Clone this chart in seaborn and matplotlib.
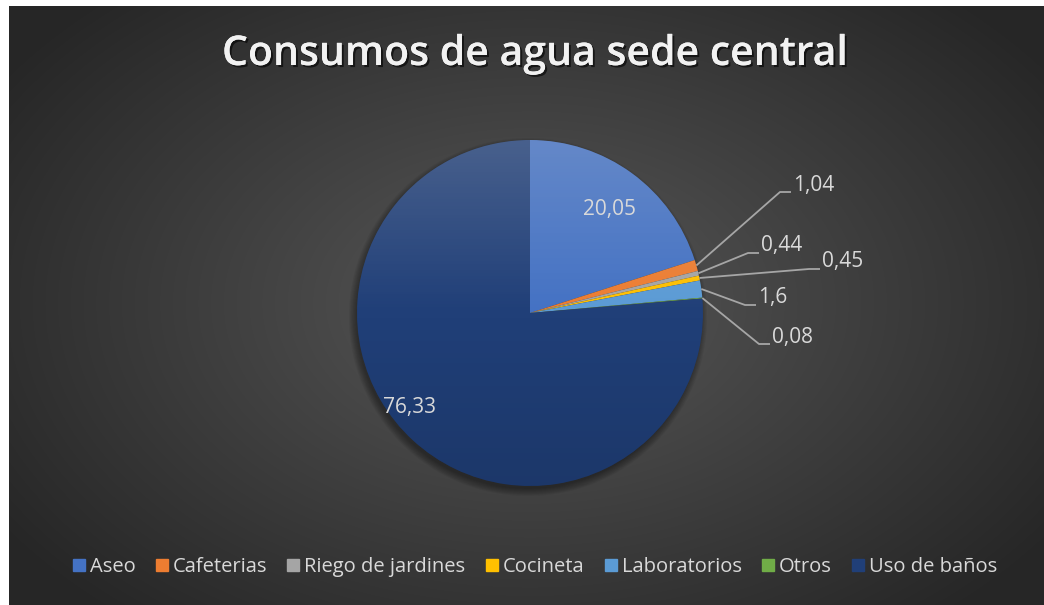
import matplotlib
matplotlib.use("Agg")
import matplotlib.pyplot as plt
import matplotlib.patheffects as pe
from matplotlib.patches import Circle, Rectangle
import numpy as np
import seaborn as sns

# data
categorias = ["Aseo", "Cafeterias", "Riego de jardines", "Cocineta",
              "Laboratorios", "Otros", "Uso de baños"]
consumo = [20.05, 1.04, 0.44, 0.45, 1.6, 0.08, 76.33]
etiquetas = ["20,05", "1,04", "0,44", "0,45", "1,6", "0,08", "76,33"]
colores = ["#4472C4", "#ED7D31", "#A5A5A5", "#FFC000", "#5B9BD5", "#70AD47", "#203F78"]

sns.set_theme(style="white")
plt.rcParams["font.family"] = ["Open Sans", "DejaVu Sans"]

W, H = 1044, 605
fig = plt.figure(figsize=(W / 100, H / 100), dpi=100)
fig.patch.set_facecolor("white")
ax = fig.add_axes([0, 0, 1, 1])

# radial gradient background (chart area starts at x=9, y=6 from top)
yy, xx = np.mgrid[0:H, 0:W]
d = np.sqrt(((xx - 525) / 640.0) ** 2 + ((yy - 300) / 420.0) ** 2)
v = 0.345 - (0.345 - 0.15) * np.clip(d, 0, 1)
bg = np.dstack([v, v, v])
ax.imshow(bg, extent=[9, W, 0, H - 6], origin="upper", zorder=0, aspect="auto")

cx, cy, r = 530, H - 313, 173

# soft pie shadow
for k in range(8):
    ax.add_patch(Circle((cx - 2, cy - 4), r + 6 - k, color="black", alpha=0.05,
                        zorder=1, lw=0))

wedges, _ = ax.pie(consumo, colors=colores, startangle=90, counterclock=False,
                   center=(cx, cy), radius=r, frame=True,
                   wedgeprops=dict(linewidth=0))
for w in wedges:
    w.set_zorder(2)
ax.set_xlim(0, W)
ax.set_ylim(0, H)
ax.axis("off")

# vertical shading over the pie
g = np.linspace(0, 1, 200)
shade = np.zeros((200, 1, 4))
shade[:, 0, :3] = np.where(g < 0.5, 0.85, 0.0)[:, None]
shade[:, 0, 3] = np.where(g < 0.5, 0.22 * (1 - g / 0.5), 0.12 * (g - 0.5) / 0.5)
im = ax.imshow(shade, extent=[cx - r, cx + r, cy - r, cy + r], origin="upper",
               zorder=3, aspect="auto")
clip = Circle((cx, cy), r, transform=ax.transData)
im.set_clip_path(clip)

txt_col = "#d9d9d9"
fs = 15

# inside labels (image coords)
ax.text(610, H - 210, etiquetas[0], color=txt_col, fontsize=fs, ha="center", va="center", zorder=5)
ax.text(410, H - 407, etiquetas[6], color=txt_col, fontsize=fs, ha="center", va="center", zorder=5)

# outside labels with leader lines: (text left x, text center y) in image coords
pos_ext = {1: (793, 185), 2: (761, 246), 3: (822, 262), 4: (758, 298), 5: (772, 337)}
acum = np.cumsum([0] + consumo)
total = acum[-1]
for i, (tx, ty) in pos_ext.items():
    mid = 90 - 360 * (acum[i] + consumo[i] / 2) / total
    ax_ = cx + r * np.cos(np.radians(mid))
    ay_ = cy + r * np.sin(np.radians(mid))
    ly = H - ty - 7
    ax.plot([ax_, tx - 13, tx - 2], [ay_, ly, ly], color="#a6a6a6", lw=1.3, zorder=4,
            solid_capstyle="butt")
    ax.text(tx, H - ty, etiquetas[i], color=txt_col, fontsize=fs, ha="left", va="center", zorder=5)

# title
ax.text(535, H - 54, "Consumos de agua sede central", color="#f2f2f2", fontsize=29.5,
        fontweight="semibold", ha="center", va="center", zorder=5,
        path_effects=[pe.withSimplePatchShadow(offset=(1.5, -1.5), shadow_rgbFace="black", alpha=0.6),
                      pe.Normal()])

# legend
handles = [Rectangle((0, 0), 1, 1, color=c) for c in colores]
leg = ax.legend(handles, categorias, loc="center", bbox_to_anchor=(535 / W, 1 - 567 / H),
                bbox_transform=fig.transFigure, ncol=7, frameon=False, fontsize=14.5,
                handlelength=0.6, handleheight=0.6, handletextpad=0.25, columnspacing=1.0,
                labelcolor=txt_col)

fig.savefig("out.png", dpi=100, facecolor="white")
